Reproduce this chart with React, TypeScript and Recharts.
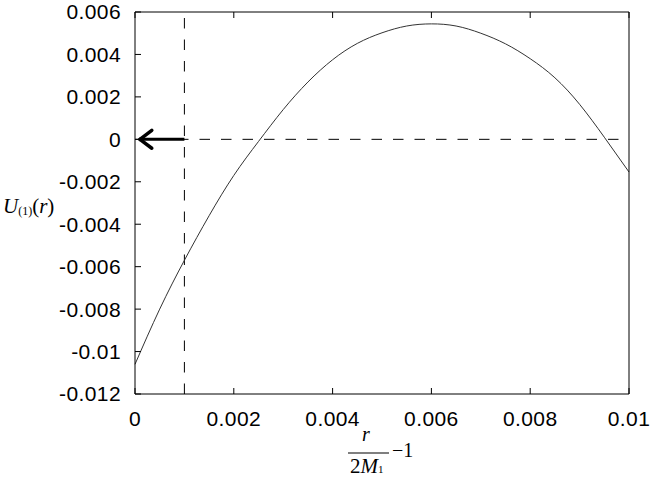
import React from "react";
import { LineChart, Line, XAxis, YAxis, ReferenceLine } from "recharts";

const xValues = [0, 0.0005, 0.001, 0.0015, 0.002, 0.0025, 0.003, 0.0035, 0.004, 0.0045, 0.005, 0.0055, 0.006, 0.0065, 0.007, 0.0075, 0.008, 0.0085, 0.009, 0.0095, 0.01];
const uValues = [-0.0106, -0.008, -0.0057, -0.0036, -0.0017, -0.0001, 0.0014, 0.0027, 0.00375, 0.00452, 0.00502, 0.00534, 0.00544, 0.00534, 0.005, 0.0045, 0.0038, 0.0029, 0.00165, 0.0001, -0.00154];
const xTicks = [0, 0.002, 0.004, 0.006, 0.008, 0.01];
const yTicks = [-0.012, -0.01, -0.008, -0.006, -0.004, -0.002, 0, 0.002, 0.004, 0.006];
const markerX = 0.001;
const arrowTipX = 0.0001;
const arrowArmX = 0.00034;
const arrowArmY = 0.00042;

const data = xValues.map((x, i) => ({ x, u: uValues[i] }));

const tickStyle = { fill: "#000", fontSize: 21, fontFamily: "Liberation Sans, Arial, sans-serif", letterSpacing: 0.4 };
const serif = "Liberation Serif, Times New Roman, serif";

const NoTick = () => <g />;

const YLabel = () => (
  <text x={3} y={213} fontFamily={serif} fontSize={21} fill="#000">
    <tspan fontStyle="italic">U</tspan>
    <tspan fontSize={12} dy={2}>(1)</tspan>
    <tspan dy={-2}>(</tspan>
    <tspan fontStyle="italic">r</tspan>
    <tspan>)</tspan>
  </text>
);

const XLabel = () => (
  <g fontFamily={serif} fill="#000">
    <text x={366} y={441} fontSize={20} fontStyle="italic" textAnchor="middle">r</text>
    <line x1={348} x2={389} y1={453} y2={453} stroke="#000" strokeWidth={1.2} />
    <text x={350} y={473} fontSize={21}>
      <tspan>2</tspan>
      <tspan fontStyle="italic">M</tspan>
      <tspan fontSize={11}>1</tspan>
    </text>
    <text x={392} y={457} fontSize={20}>−1</text>
  </g>
);

export default function App() {
  return (
    <div style={{ position: "absolute", left: 0, top: 0, background: "#fff" }}>
      <LineChart width={654} height={478} data={data} margin={{ top: 11, right: 24, bottom: 0, left: 0 }}>
        <XAxis
          dataKey="x"
          type="number"
          domain={[0, 0.01]}
          ticks={xTicks}
          height={84}
          stroke="#000"
          tickSize={-6}
          tickMargin={23}
          tick={tickStyle}
          interval={0}
          label={<XLabel />}
        />
        <XAxis
          xAxisId="top"
          orientation="top"
          dataKey="x"
          type="number"
          domain={[0, 0.01]}
          ticks={xTicks}
          height={1}
          stroke="#000"
          tickSize={-6}
          tick={NoTick}
          interval={0}
        />
        <YAxis
          type="number"
          domain={[-0.012, 0.006]}
          ticks={yTicks}
          width={135}
          stroke="#000"
          tickSize={-6}
          tickMargin={20}
          tick={tickStyle}
          interval={0}
          label={<YLabel />}
        />
        <YAxis
          yAxisId="right"
          orientation="right"
          type="number"
          domain={[-0.012, 0.006]}
          ticks={yTicks}
          width={1}
          stroke="#000"
          tickSize={-6}
          tick={NoTick}
          interval={0}
        />
        <ReferenceLine y={0} stroke="#000" strokeWidth={1} strokeDasharray="10.5 11" />
        <ReferenceLine x={markerX} stroke="#000" strokeWidth={1} strokeDasharray="10.5 11" />
        <ReferenceLine segment={[{ x: markerX, y: 0 }, { x: arrowTipX, y: 0 }]} stroke="#000" strokeWidth={3} />
        <ReferenceLine segment={[{ x: arrowTipX, y: 0 }, { x: arrowArmX, y: arrowArmY }]} stroke="#000" strokeWidth={3.5} strokeLinecap="round" />
        <ReferenceLine segment={[{ x: arrowTipX, y: 0 }, { x: arrowArmX, y: -arrowArmY }]} stroke="#000" strokeWidth={3.5} strokeLinecap="round" />
        <Line type="natural" dataKey="u" stroke="#333" strokeWidth={1} dot={false} isAnimationActive={false} />
      </LineChart>
    </div>
  );
}
